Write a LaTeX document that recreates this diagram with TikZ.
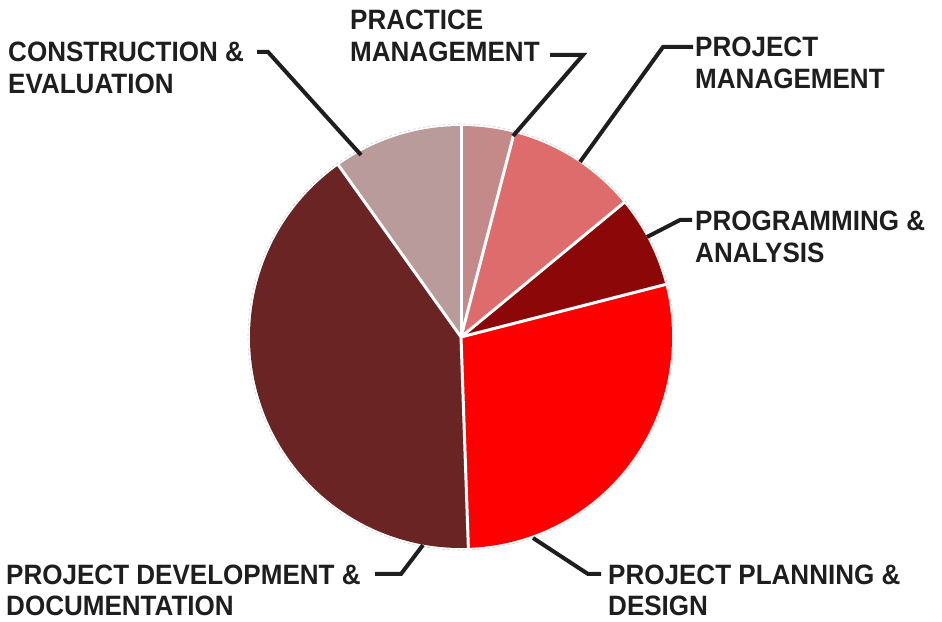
\documentclass[tikz,border=0pt]{standalone}
\usepackage{fontspec}
\setmainfont{Liberation Sans}[FakeStretch=0.93]

\definecolor{ink}{HTML}{1E1E1E}
\definecolor{pracmgmt}{HTML}{C48A8A}
\definecolor{projmgmt}{HTML}{DE6C6C}
\definecolor{progana}{HTML}{8C0808}
\definecolor{planning}{HTML}{FF0000}
\definecolor{develop}{HTML}{6B2424}
\definecolor{constr}{HTML}{B99B9B}

\begin{document}
\begin{tikzpicture}[x=1pt, y=1pt,
    lbl/.style={anchor=base west, align=left, inner sep=0pt,
                font=\bfseries\fontsize{28}{32}\selectfont, text=ink},
    leader/.style={draw=ink, line width=4pt},
    sep/.style={draw=white, line width=3pt}]

    \useasboundingbox (0,0) rectangle (942,621);
    \coordinate (ctr) at (461,284);

    % pie
    \draw[gray!35, densely dashed, line width=0.6pt] (ctr) circle[radius=213];
    \fill[pracmgmt] (ctr) -- ++(75.4:211) arc[start angle=75.4, end angle=90, radius=211] -- cycle;
    \fill[projmgmt] (ctr) -- ++(39.5:211) arc[start angle=39.5, end angle=75.4, radius=211] -- cycle;
    \fill[progana] (ctr) -- ++(14.4:211) arc[start angle=14.4, end angle=39.5, radius=211] -- cycle;
    \fill[planning] (ctr) -- ++(-88:211) arc[start angle=-88, end angle=14.4, radius=211] -- cycle;
    \fill[develop] (ctr) -- ++(125.5:211) arc[start angle=125.5, end angle=272, radius=211] -- cycle;
    \fill[constr] (ctr) -- ++(90:211) arc[start angle=90, end angle=125.5, radius=211] -- cycle;
    \foreach \a in {90,75.4,39.5,14.4,-88,125.5}
        \draw[sep] (ctr) -- ++(\a:212);

    % labels (base = last line)
    \node[lbl] (constrlbl) at (8,527) {CONSTRUCTION \&\\EVALUATION};
    \node[lbl] (praclbl) at (350,559) {PRACTICE\\MANAGEMENT};
    \node[lbl] (pmlbl) at (695,532) {PROJECT\\MANAGEMENT};
    \node[lbl] (proglbl) at (695,358) {PROGRAMMING \&\\ANALYSIS};
    \node[lbl] (devlbl) at (6,5) {PROJECT DEVELOPMENT \&\\DOCUMENTATION};
    \node[lbl] (planlbl) at (608,5) {PROJECT PLANNING \&\\DESIGN};

    % leaders
    \coordinate (constr-e) at (361,466);
    \coordinate (constr-k) at (268,569);
    \coordinate (constr-t) at (257,569);
    \coordinate (prac-e) at (513,485);
    \coordinate (prac-k) at (583,566);
    \coordinate (prac-t) at (550,566);
    \coordinate (pm-e) at (580,459);
    \coordinate (pm-k) at (663,574);
    \coordinate (pm-t) at (693,574);
    \coordinate (prog-e) at (647,384);
    \coordinate (prog-k) at (680,401);
    \coordinate (prog-t) at (692,401);
    \coordinate (plan-e) at (533,83);
    \coordinate (plan-k) at (588,47);
    \coordinate (plan-t) at (601,47);
    \coordinate (dev-e) at (423,76);
    \coordinate (dev-k) at (401,47);
    \coordinate (dev-t) at (375,47);

    \draw[leader] (constr-e) -- (constr-k) -- (constr-t);
    \draw[leader] (prac-e) -- (prac-k) -- (prac-t);
    \draw[leader] (pm-e) -- (pm-k) -- (pm-t);
    \draw[leader] (prog-e) -- (prog-k) -- (prog-t);
    \draw[leader] (plan-e) -- (plan-k) -- (plan-t);
    \draw[leader] (dev-e) -- (dev-k) -- (dev-t);
\end{tikzpicture}
\end{document}
